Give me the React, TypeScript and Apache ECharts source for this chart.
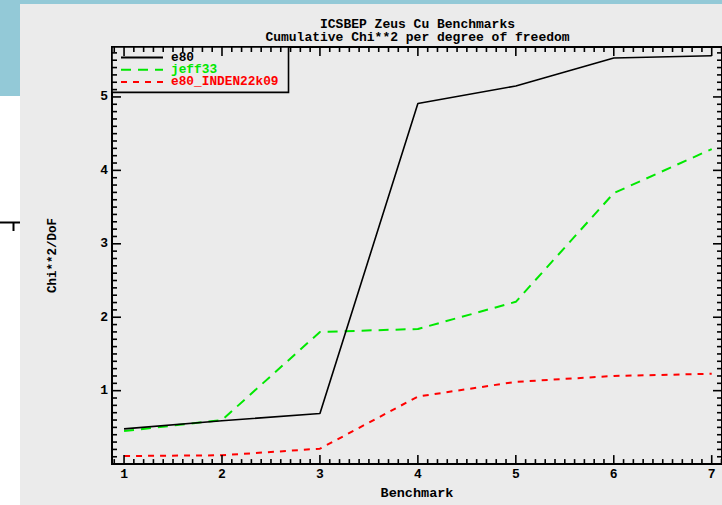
import React, { useEffect, useRef } from "react";
import * as echarts from "echarts";

const benchmarks = [1, 2, 3, 4, 5, 6, 7];
const e80 = [0.48, 0.59, 0.69, 4.91, 5.15, 5.53, 5.56];
const jeff33 = [0.45, 0.6, 1.8, 1.84, 2.21, 3.69, 4.29];
const e80Inden = [0.11, 0.12, 0.21, 0.92, 1.12, 1.2, 1.23];
const xTickLabels = [1, 2, 3, 4, 5, 6, 7];
const yTickLabels = [1, 2, 3, 4, 5];
const titleLines = ["ICSBEP Zeus Cu Benchmarks", "Cumulative Chi**2 per degree of freedom"];
const seriesNames = ["e80", "jeff33", "e80_INDEN22k09"];

const X_MIN = 0.877;
const X_MAX = 7.105;
const Y_MIN = 0;
const Y_MAX = 5.68;

const FONT = "'Liberation Mono', 'DejaVu Sans Mono', monospace";
const GREEN = "#00e800";
const RED = "#ff0000";
const MAJOR_PX = 9;
const MINOR_PX = 5;

// tick positions every 0.1 unit inside the axis limits; second item 1 = major tick
function tickValues(from: number, to: number): number[][] {
  const out: number[][] = [];
  for (let i = Math.ceil(from * 10 + 1e-9); i <= Math.floor(to * 10 - 1e-9); i++) {
    if (i === 0) continue;
    out.push([i / 10, i % 10 === 0 ? 1 : 0]);
  }
  return out;
}

export default function App() {
  const ref = useRef<HTMLDivElement>(null);
  useEffect(() => {
    if (!ref.current) return;
    const chart = echarts.init(ref.current, undefined, { renderer: "svg" });
    const labelStyle = { fontFamily: FONT, fontWeight: "bold" as const, fontSize: 13, color: "#000" };

    const baseGraphic: any[] = [
      { type: "rect", z: -10, shape: { x: 0, y: 0, width: 722, height: 505 }, style: { fill: "#ffffff" } },
      { type: "rect", z: -9, shape: { x: 0, y: 0, width: 722, height: 4 }, style: { fill: "#93c9d7" } },
      { type: "rect", z: -9, shape: { x: 0, y: 0, width: 20, height: 96 }, style: { fill: "#93c9d7" } },
      { type: "rect", z: -8, shape: { x: 20, y: 4, width: 702, height: 501 }, style: { fill: "#ebebeb" } },
      { type: "line", z: -7, shape: { x1: 0, y1: 222.5, x2: 20, y2: 222.5 }, style: { stroke: "#000", lineWidth: 2 } },
      { type: "line", z: -7, shape: { x1: 13.5, y1: 222, x2: 13.5, y2: 231 }, style: { stroke: "#000", lineWidth: 2 } },
      {
        type: "text",
        x: 417.5,
        y: 31,
        style: {
          text: titleLines.join("\n"),
          align: "center",
          verticalAlign: "middle",
          lineHeight: 13.4,
          font: `bold 13px ${FONT}`,
          fill: "#000",
        },
      },
    ];

    chart.setOption({
      animation: false,
      backgroundColor: "transparent",
      graphic: baseGraphic,
      grid: {
        left: 112,
        right: 0,
        top: 47,
        bottom: 37,
        show: true,
        borderColor: "#000",
        borderWidth: 2,
      },
      legend: {
        orient: "vertical",
        left: 112,
        top: 47,
        padding: [4, 10, 4, 8],
        itemGap: -0.8,
        itemWidth: 42,
        itemHeight: 12,
        backgroundColor: "#ebebeb",
        borderColor: "#000",
        borderWidth: 1.6,
        z: 10,
        itemStyle: { color: "transparent", borderColor: "transparent", borderWidth: 0, opacity: 0 },
        textStyle: { fontFamily: FONT, fontWeight: "bold", fontSize: 12.8, lineHeight: 12, padding: [0, 0, 0, 3] },
        data: [
          { name: seriesNames[0], textStyle: { color: "#000" } },
          { name: seriesNames[1], textStyle: { color: GREEN } },
          { name: seriesNames[2], textStyle: { color: RED } },
        ],
      },
      xAxis: {
        type: "value",
        min: X_MIN,
        max: X_MAX,
        splitLine: { show: false },
        axisLine: { show: true, onZero: false, lineStyle: { color: "#000", width: 2 } },
        axisTick: { show: false },
        axisLabel: { ...labelStyle, margin: 4, customValues: xTickLabels },
        name: "Benchmark",
        nameLocation: "middle",
        nameGap: 19,
        nameTextStyle: { ...labelStyle, fontSize: 13.5 },
      },
      yAxis: {
        type: "value",
        min: Y_MIN,
        max: Y_MAX,
        splitLine: { show: false },
        axisLine: { show: true, onZero: false, lineStyle: { color: "#000", width: 2 } },
        axisTick: { show: false },
        axisLabel: { ...labelStyle, margin: 4, customValues: yTickLabels },
        name: "Chi**2/DoF",
        nameLocation: "middle",
        nameRotate: 90,
        nameGap: 53,
        nameTextStyle: { ...labelStyle, fontSize: 12.5 },
      },
      series: [
        {
          name: seriesNames[0],
          type: "line",
          z: 4,
          symbol: "none",
          data: benchmarks.map((b, i) => [b, e80[i]]),
          lineStyle: { color: "#000", width: 1.6, type: "solid" },
          itemStyle: { color: "#000" },
        },
        {
          name: seriesNames[1],
          type: "line",
          z: 3,
          symbol: "none",
          data: benchmarks.map((b, i) => [b, jeff33[i]]),
          lineStyle: { color: GREEN, width: 2, type: [10, 7] },
          itemStyle: { color: GREEN },
        },
        {
          name: seriesNames[2],
          type: "line",
          z: 2,
          symbol: "none",
          data: benchmarks.map((b, i) => [b, e80Inden[i]]),
          lineStyle: { color: RED, width: 2, type: [6, 6] },
          itemStyle: { color: RED },
        },
      ],
    });

    // tick marks, placed through the chart's own axis scales
    const toPx = (p: number[]) => chart.convertToPixel({ gridIndex: 0 }, p) as number[];
    const tickEls: any[] = [];
    const tickStyle = { stroke: "#000", lineWidth: 1.6 };
    for (const [v, major] of tickValues(X_MIN, X_MAX)) {
      const len = major ? MAJOR_PX : MINOR_PX;
      const b = toPx([v, Y_MIN]);
      const t = toPx([v, Y_MAX]);
      tickEls.push({ type: "line", z: 20, silent: true, shape: { x1: b[0], y1: b[1], x2: b[0], y2: b[1] - len }, style: tickStyle });
      tickEls.push({ type: "line", z: 20, silent: true, shape: { x1: t[0], y1: t[1], x2: t[0], y2: t[1] + len }, style: tickStyle });
    }
    for (const [v, major] of tickValues(Y_MIN, Y_MAX)) {
      const len = major ? MAJOR_PX : MINOR_PX;
      const l = toPx([X_MIN, v]);
      const r = toPx([X_MAX, v]);
      tickEls.push({ type: "line", z: 20, silent: true, shape: { x1: l[0], y1: l[1], x2: l[0] + len, y2: l[1] }, style: tickStyle });
      tickEls.push({ type: "line", z: 20, silent: true, shape: { x1: r[0], y1: r[1], x2: r[0] - len, y2: r[1] }, style: tickStyle });
    }
    chart.setOption({ graphic: baseGraphic.concat(tickEls) });

    return () => chart.dispose();
  }, []);
  return (
    <div style={{ position: "absolute", left: 0, top: 0, width: 722, height: 505, background: "#fff" }}>
      <div ref={ref} style={{ width: 722, height: 505 }} />
    </div>
  );
}
